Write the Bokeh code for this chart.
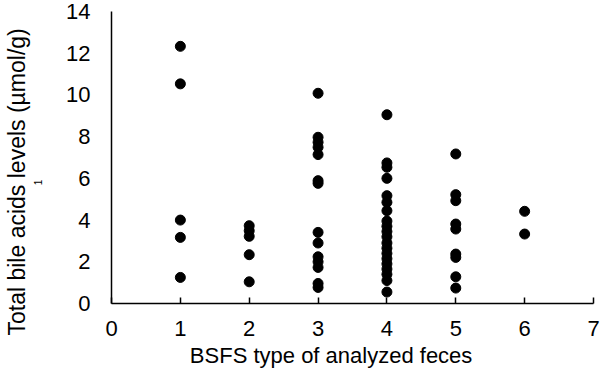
from bokeh.plotting import figure
from bokeh.models import ColumnDataSource, Range1d, FixedTicker, LinearAxis, Title
from bokeh.embed import file_html
from bokeh.resources import INLINE

# BSFS type -> total bile acids levels (umol/g)
type1 = [12.33, 10.53, 4.00, 3.17, 1.25]
type2 = [3.73, 3.49, 3.22, 2.34, 1.04]
type3 = [10.08, 7.97, 7.73, 7.49, 7.14, 5.89, 5.76, 3.41, 2.90, 2.24, 2.00, 1.73, 0.96, 0.77]
type4 = [9.05, 6.74, 6.53, 6.00, 5.17, 4.85, 4.45, 3.95, 3.70, 3.45, 3.20, 2.90, 2.65,
         2.40, 2.15, 1.90, 1.65, 1.40, 1.10, 0.55]
type5 = [7.17, 5.22, 4.93, 3.81, 3.57, 2.37, 2.21, 1.28, 0.74]
type6 = [4.42, 3.33]

x_ticks = [0, 1, 2, 3, 4, 5, 6, 7]
y_ticks = [0, 2, 4, 6, 8, 10, 12, 14]

groups = [type1, type2, type3, type4, type5, type6]
xs, ys = [], []
for i, g in enumerate(groups, start=1):
    xs += [i] * len(g)
    ys += g
src = ColumnDataSource(dict(x=xs, y=ys))

FONT = "Liberation Sans"
NB = "\u00a0"

p = figure(width=600, height=370, output_backend="svg", toolbar_location=None,
           x_range=Range1d(0, 7), y_range=Range1d(0, 14),
           min_border_left=111, min_border_right=7, min_border_top=11, min_border_bottom=67)
p.outline_line_color = None
p.xgrid.visible = False
p.ygrid.visible = False
p.background_fill_color = "white"
p.border_fill_color = "white"

p.scatter("x", "y", source=src, size=10, color="black")

for ax in (p.xaxis[0], p.yaxis[0]):
    ax.axis_line_color = "black"
    ax.axis_line_width = 1.5
    ax.major_tick_line_color = "black"
    ax.major_tick_line_width = 1.5
    ax.minor_tick_line_color = None
    ax.major_label_text_font = FONT
    ax.major_label_text_font_size = "22px"
    ax.major_label_text_color = "black"
    ax.axis_label_text_font = FONT
    ax.axis_label_text_font_style = "normal"
    ax.axis_label_text_color = "black"

p.xaxis.axis_label_text_font_size = "22px"
p.xaxis.ticker = FixedTicker(ticks=x_ticks)
p.yaxis.ticker = FixedTicker(ticks=y_ticks)
p.xaxis.major_tick_in = 6
p.xaxis.major_tick_out = 0
p.yaxis.major_tick_in = 0
p.yaxis.major_tick_out = 0
p.xaxis.major_label_standoff = 17
p.xaxis.axis_label_standoff = 4
p.yaxis.major_label_standoff = 21

p.xaxis.axis_label = "BSFS type of analyzed feces" + NB * 7
p.yaxis.axis_label = None

# small stray "1" sitting between the tick labels and the axis title
one_axis = LinearAxis(ticker=FixedTicker(ticks=[]), axis_line_color=None,
                      major_tick_line_color=None, minor_tick_line_color=None,
                      major_label_text_font_size="0px",
                      axis_label="1" + NB * 18, axis_label_text_font=FONT,
                      axis_label_text_font_size="10px", axis_label_text_font_style="normal",
                      axis_label_text_color="black", axis_label_standoff=20)
p.add_layout(one_axis, "left")

# the y-axis title, placed from the bottom like the reference
ytitle = Title(text="Total bile acids levels (µmol/g)", align="left", offset=-32,
               standoff=0, text_font=FONT, text_font_size="23px",
               text_font_style="normal", text_color="black")
p.add_layout(ytitle, "left")

open("out.html", "w").write(file_html(p, INLINE))
